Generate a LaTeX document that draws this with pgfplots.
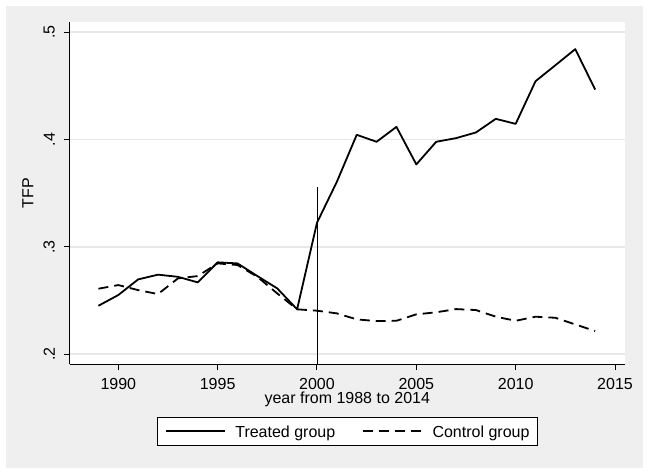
\documentclass[border=0pt]{standalone}
\usepackage{fontspec}
\setmainfont{Liberation Sans}
\usepackage{pgfplots}
\pgfplotsset{compat=1.18}
\definecolor{bggray}{RGB}{239,239,239}
\definecolor{gridgray}{RGB}{232,232,232}
\newcommand{\ff}{\fontsize{16bp}{19bp}\selectfont}
\begin{document}
\begin{tikzpicture}
\useasboundingbox[fill=white] (0,0) rectangle (648bp,474bp);
\fill[bggray] (6bp,6bp) rectangle (643bp,468bp);
\begin{axis}[
  at={(69.5bp,110bp)}, anchor=south west,
  width=555.5bp, height=342bp, scale only axis,
  xmin=1987.544, xmax=2015.503, ymin=0.1907, ymax=0.5096,
  axis x line*=bottom, axis y line*=left,
  axis line style={-, line width=1bp, black},
  axis background/.style={fill=white},
  tick align=outside, major tick length=6bp,
  tick style={line width=1bp, black},
  xtick={1990,1995,2000,2005,2010,2015},
  xticklabels={1990,1995,2000,2005,2010,2015},
  ytick={0.2,0.3,0.4,0.5}, yticklabels={.2,.3,.4,.5},
  minor tick num=0,
  ymajorgrids, grid style={gridgray, line width=1.6bp},
  xticklabel style={font=\ff, anchor=base, inner sep=0pt, yshift=-19.3bp},
  yticklabel style={font=\ff, rotate=90, anchor=south, inner xsep=0pt, inner ysep=8.5bp},
  xlabel={year from 1988 to 2014},
  xlabel style={font=\ff, inner sep=0pt, at={(axis description cs:0.5,0)}, anchor=base, yshift=-39.8bp},
  ylabel={TFP},
  ylabel style={font=\ff, inner sep=0pt, at={(axis description cs:-0.06517,0.5)}, anchor=base},
  legend columns=2,
  legend style={at={(axis description cs:0.5,-0.1968)}, anchor=center,
    draw=black, line width=1bp, fill=white, font=\ff,
    inner xsep=8bp, inner ysep=0pt,
    nodes={inner xsep=0pt, inner ysep=0pt, text height=20.2bp, text depth=8.3bp},
    /tikz/every odd column/.append style={column sep=9.5bp},
    /tikz/every even column/.append style={column sep=27bp}},
  legend image code/.code={\draw[#1, line width=1.8bp] (0bp,0bp) -- (59bp,0bp);},
]
\addplot[black, line width=1.8bp, line join=round] coordinates {
(1989,0.245) (1990,0.255) (1991,0.2696) (1992,0.274) (1993,0.272)
(1994,0.2668) (1995,0.2855) (1996,0.2845) (1997,0.2727) (1998,0.2612)
(1999,0.2417) (2000,0.3224) (2001,0.3606) (2002,0.4044) (2003,0.3979)
(2004,0.4118) (2005,0.3768) (2006,0.3979) (2007,0.4013) (2008,0.4066)
(2009,0.4193) (2010,0.4146) (2011,0.4544) (2012,0.4693) (2013,0.4843)
(2014,0.4466)};
\addlegendentry{Treated group}
\addplot[black, line width=1.8bp, line join=round, dash pattern=on 10bp off 6bp] coordinates {
(1989,0.2609) (1990,0.2643) (1991,0.2596) (1992,0.2559) (1993,0.2705)
(1994,0.2727) (1995,0.2845) (1996,0.283) (1997,0.272) (1998,0.2565)
(1999,0.2417) (2000,0.2404) (2001,0.2379) (2002,0.2323) (2003,0.2307)
(2004,0.231) (2005,0.237) (2006,0.2389) (2007,0.2419) (2008,0.241)
(2009,0.2348) (2010,0.231) (2011,0.2348) (2012,0.2338) (2013,0.2276)
(2014,0.2214)};
\addlegendentry{Control group}
\addplot[black, line width=0.9bp, forget plot] coordinates {(2000,0.1907) (2000,0.3553)};
\end{axis}
\end{tikzpicture}
\end{document}
